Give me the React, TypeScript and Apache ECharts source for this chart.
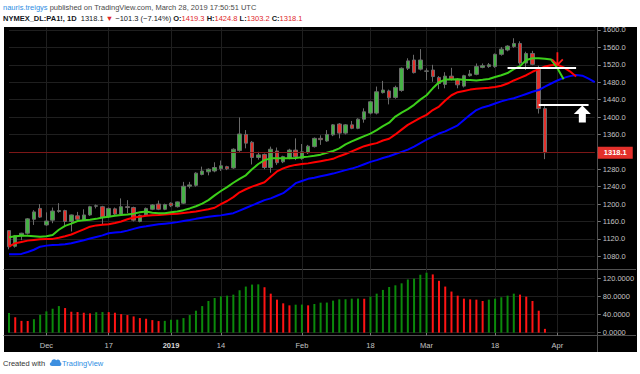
import React, { useEffect, useRef } from 'react';
import * as echarts from 'echarts';

const FONT = 'Liberation Sans, Arial, sans-serif';

const dates = [
  '2018-11-23', '2018-11-26', '2018-11-27', '2018-11-28', '2018-11-29', '2018-11-30',
  '2018-12-03', '2018-12-04', '2018-12-05', '2018-12-06', '2018-12-07', '2018-12-10',
  '2018-12-11', '2018-12-12', '2018-12-13', '2018-12-14', '2018-12-17', '2018-12-18',
  '2018-12-19', '2018-12-20', '2018-12-21', '2018-12-24', '2018-12-26', '2018-12-27',
  '2018-12-28', '2018-12-31', '2019-01-02', '2019-01-03', '2019-01-04', '2019-01-07',
  '2019-01-08', '2019-01-09', '2019-01-10', '2019-01-11', '2019-01-14', '2019-01-15',
  '2019-01-16', '2019-01-17', '2019-01-18', '2019-01-22', '2019-01-23', '2019-01-24',
  '2019-01-25', '2019-01-28', '2019-01-29', '2019-01-30', '2019-01-31', '2019-02-01',
  '2019-02-04', '2019-02-05', '2019-02-06', '2019-02-07', '2019-02-08', '2019-02-11',
  '2019-02-12', '2019-02-13', '2019-02-14', '2019-02-15', '2019-02-18', '2019-02-19',
  '2019-02-20', '2019-02-21', '2019-02-22', '2019-02-25', '2019-02-26', '2019-02-27',
  '2019-02-28', '2019-03-01', '2019-03-04', '2019-03-05', '2019-03-06', '2019-03-07',
  '2019-03-08', '2019-03-11', '2019-03-12', '2019-03-13', '2019-03-14', '2019-03-15',
  '2019-03-18', '2019-03-19', '2019-03-20', '2019-03-21', '2019-03-22', '2019-03-25',
  '2019-03-26', '2019-03-27', '2019-03-28', '2019-03-29', '2019-04-01', '2019-04-02',
  '2019-04-03', '2019-04-04', '2019-04-05', '2019-04-08', '2019-04-09',
];

// [open, high, low, close]
const ohlc = [
  [1139, 1140, 1096, 1102], [1103, 1129, 1100, 1127], [1127, 1134, 1117, 1133], [1133, 1168, 1130, 1166],
  [1165, 1186, 1152, 1182], [1190, 1200, 1168, 1170], [1152, 1181, 1150, 1161], [1163, 1192, 1156, 1184],
  [1183, 1202, 1180, 1185], [1185, 1187, 1150, 1160], [1160, 1176, 1137, 1175], [1173, 1182, 1163, 1165],
  [1163, 1188, 1161, 1175], [1175, 1196, 1173, 1194], [1195, 1199, 1190, 1196], [1194, 1196, 1152, 1170],
  [1171, 1192, 1168, 1190], [1189, 1192, 1175, 1177], [1177, 1213, 1175, 1194], [1194, 1209, 1179, 1192],
  [1192, 1194, 1160, 1163], [1160, 1176, 1158, 1174], [1175, 1192, 1173, 1190], [1188, 1200, 1186, 1198],
  [1200, 1208, 1186, 1188], [1188, 1201, 1186, 1199], [1202, 1204, 1193, 1196], [1194, 1206, 1192, 1205],
  [1202, 1251, 1200, 1241], [1241, 1251, 1236, 1244], [1243, 1273, 1240, 1271], [1268, 1286, 1266, 1276],
  [1274, 1282, 1266, 1280], [1276, 1296, 1273, 1284], [1281, 1300, 1276, 1288], [1286, 1288, 1278, 1281],
  [1283, 1328, 1281, 1326], [1323, 1399, 1320, 1361], [1360, 1370, 1328, 1340], [1342, 1345, 1291, 1307],
  [1307, 1320, 1302, 1313], [1314, 1316, 1280, 1284], [1284, 1332, 1272, 1326], [1322, 1330, 1290, 1295],
  [1297, 1311, 1294, 1309], [1305, 1327, 1303, 1324], [1324, 1351, 1301, 1309], [1305, 1338, 1302, 1320],
  [1318, 1336, 1315, 1333], [1332, 1353, 1330, 1351], [1351, 1358, 1336, 1348], [1345, 1370, 1343, 1360],
  [1359, 1384, 1356, 1382], [1384, 1386, 1351, 1363], [1363, 1384, 1360, 1382], [1382, 1391, 1372, 1374],
  [1374, 1397, 1372, 1395], [1395, 1420, 1387, 1412], [1409, 1437, 1406, 1435], [1409, 1470, 1406, 1458],
  [1456, 1483, 1454, 1462], [1460, 1463, 1429, 1444], [1445, 1472, 1442, 1468], [1461, 1514, 1458, 1512],
  [1512, 1535, 1508, 1529], [1531, 1543, 1500, 1502], [1510, 1556, 1507, 1531], [1505, 1512, 1485, 1506],
  [1508, 1520, 1481, 1493], [1491, 1494, 1464, 1477], [1475, 1503, 1466, 1494], [1494, 1513, 1484, 1487],
  [1487, 1489, 1466, 1474], [1471, 1497, 1468, 1495], [1495, 1508, 1493, 1499], [1498, 1523, 1496, 1516],
  [1514, 1523, 1512, 1518], [1516, 1524, 1513, 1520], [1516, 1546, 1513, 1544], [1544, 1561, 1541, 1556],
  [1554, 1565, 1551, 1563], [1562, 1581, 1559, 1569], [1569, 1574, 1520, 1524], [1524, 1550, 1508, 1546],
  [1546, 1552, 1519, 1521], [1514, 1518, 1408, 1419.4], [1419.3, 1424.8, 1303.2, 1318.1],
];

// Alligator lines (displaced forward 8 / 5 / 3 bars)
const jaw = [
  1084.5, 1084.7, 1085.5, 1090, 1095, 1102, 1104.5, 1106, 1106.5, 1107.5, 1110, 1113.5, 1117, 1121, 1124.5,
  1128, 1133, 1134.5, 1136, 1139, 1143, 1146.6, 1149, 1151.5, 1153.5, 1155, 1156.5, 1158.5, 1161, 1163.4,
  1166, 1168.5, 1171, 1172.5, 1174, 1176.5, 1179, 1185, 1191, 1197, 1203, 1209, 1213, 1219, 1225, 1236,
  1248, 1253, 1258, 1260.5, 1264, 1267, 1270, 1274, 1278, 1281.5, 1286, 1291.5, 1297, 1301, 1306, 1310,
  1315, 1320, 1325, 1332, 1340, 1348, 1355, 1362, 1367, 1374, 1381, 1393, 1405, 1416, 1422, 1426, 1431,
  1436, 1440, 1443, 1448, 1453, 1458, 1462, 1470, 1477, 1484, 1490, 1494, 1496.5, 1495, 1488, 1480,
];
const teeth = [
  1102, 1110, 1113, 1116, 1117.5, 1119, 1119.5, 1120, 1122.5, 1126, 1130, 1136, 1142, 1148, 1151, 1152.5,
  1153.5, 1156.5, 1160, 1165, 1169, 1171, 1173, 1174.5, 1175, 1176, 1177, 1178, 1179.5, 1181, 1183, 1185.5,
  1188, 1191.5, 1200, 1207, 1216, 1227, 1234, 1240, 1245, 1250, 1263, 1275, 1282, 1287, 1290, 1292,
  1293.5, 1296, 1298.5, 1301, 1304, 1310, 1315, 1321, 1327, 1333, 1337, 1340, 1346, 1350, 1360, 1371,
  1382, 1390, 1398, 1405, 1416, 1424, 1438, 1450, 1457, 1460, 1463, 1465, 1466, 1467, 1469, 1472, 1477,
  1484, 1490, 1496, 1504, 1510, 1516, 1519, 1520, 1514, 1505, 1493,
];
const lips = [
  1124, 1126, 1127.4, 1127, 1126, 1125, 1126, 1129, 1141, 1150, 1155, 1161, 1163, 1164, 1166, 1169, 1171,
  1173, 1175, 1176, 1178, 1181, 1183, 1180, 1179, 1179, 1181, 1183, 1186, 1190, 1195, 1201, 1209, 1220,
  1230, 1239, 1249, 1258, 1266, 1280, 1292, 1301, 1305, 1305, 1305, 1305, 1306, 1307.5, 1309, 1311,
  1313.5, 1318, 1322, 1328, 1337, 1344, 1350, 1356, 1362, 1370, 1379, 1387, 1401, 1410, 1418, 1428, 1440,
  1450, 1466, 1480, 1486, 1486.5, 1486.6, 1485.5, 1485, 1484, 1485.5, 1487.5, 1492, 1496, 1501, 1510,
  1517, 1531, 1535, 1535, 1534, 1532, 1512, 1487,
];

const osc = [
  43.6, 34.6, 26.3, 26.0, 30, 39.9, 47.4, 53.3, 59.2, 54.8, 46.6, 45.9, 44.4, 42.9, 45.5, 45.9, 45.7, 44.4,
  41.4, 39.2, 36.2, 32.5, 31, 28, 25.8, 26.3, 28.8, 29.0, 32.5, 39.2, 48.9, 59.2, 70.5, 77.2, 80.9, 82.4,
  84.6, 94.4, 102.6, 107, 107.5, 101.1, 86.8, 73.5, 65.3, 60.8, 62.3, 62.5, 60.8, 63.8, 66.8, 67.0, 71.3,
  74.2, 74.4, 75.7, 75.9, 75.5, 80.2, 86.8, 95.1, 101.6, 105.4, 109.8, 118.4, 120.4, 128.9, 133.4, 129.6,
  115.4, 102.6, 91.5, 82.4, 75.7, 74.2, 73.5, 70.5, 73.5, 75.7, 78.8, 82.4, 86.8, 84.7, 80.2, 70.5, 48.9, 8.5,
];

const priceTicks = [1080, 1120, 1160, 1200, 1240, 1280, 1320, 1360, 1400, 1440, 1480, 1520, 1560, 1600];
const oscTicks = [0, 40, 80, 120];
const timeTickDates = ['2018-12-03', '2018-12-17', '2019-01-02', '2019-01-14', '2019-02-01', '2019-02-18', '2019-03-01', '2019-03-18', '2019-04-01'];
const timeTickLabels = ['Dec', '17', '2019', '14', 'Feb', '18', 'Mar', '18', 'Apr'];

// user drawings: horizontal levels [fromDate, toDate, price]
const levelFrom = ['2019-03-20', '2019-03-27'];
const levelTo = ['2019-04-04', '2019-04-08'];
const levelPrice = [1514.3, 1427.6];
// arrows [date, price]
const arrowDates = ['2019-04-01', '2019-04-05'];
const arrowPrices = [1533, 1407];

const DOWN_ARROW = 'path://M5.5,0L7.5,0L7.5,11.5L11.8,7.2L13.2,8.6L6.5,15.3L-0.2,8.6L1.2,7.2L5.5,11.5Z';
const UP_ARROW = 'path://M8.5,0L17,8.5L12,8.5L12,17L5,17L5,8.5L0,8.5Z';

let logoRegistered = false;

export default function App() {
  const ref = useRef<HTMLDivElement>(null);

  useEffect(() => {
    if (!ref.current) return;
    if (!logoRegistered) {
      echarts.graphic.registerShape(
        'tvlogo',
        echarts.graphic.extendPath(
          'M3,9C0.5,9 0,6 2.3,5.3C2.3,2.5 5.5,1.3 7.3,3.2C8.5,1.8 11.5,2.6 11.2,5.2C13,5.5 12.8,9 10.5,9Z',
          {}
        )
      );
      logoRegistered = true;
    }
    const chart = echarts.init(ref.current, null, { renderer: 'svg' });
    const tickSet = new Set(timeTickDates);
    const labelMap: Record<string, string> = {};
    timeTickDates.forEach((d, i) => (labelMap[d] = timeTickLabels[i]));
    const candleData = ohlc.map((r) => [r[0], r[3], r[2], r[1]]);
    const last = ohlc[ohlc.length - 1];
    const lastClose = last[3];
    const oscData = osc.map((v, i) => ({
      value: v,
      itemStyle: { color: i > 0 && v < osc[i - 1] ? '#ff1414' : '#0b8a0b' },
    }));
    const gridLine = { color: '#1f1f1f', width: 1 };
    const axisText = { color: '#c4c4c4', fontSize: 7.5, fontFamily: FONT };

    const option: any = {
      animation: false,
      backgroundColor: 'transparent',
      grid: [
        { left: 9, width: 585.8, top: 27.5, height: 241.8, outerBoundsMode: 'none', containLabel: false },
        { left: 9, width: 585.8, top: 269.3, height: 66, outerBoundsMode: 'none', containLabel: false },
      ],
      xAxis: [
        {
          type: 'category', gridIndex: 0, data: dates, boundaryGap: false,
          axisLine: { show: false }, axisTick: { show: false }, axisLabel: { show: false },
          splitLine: { show: true, interval: (_i: number, v: string) => tickSet.has(v), lineStyle: gridLine },
        },
        {
          type: 'category', gridIndex: 1, data: dates, boundaryGap: false,
          axisLine: { show: false },
          axisTick: { show: true, length: 3, interval: (_i: number, v: string) => tickSet.has(v), lineStyle: { color: '#777' } },
          axisLabel: {
            ...axisText, margin: 6,
            interval: (_i: number, v: string) => tickSet.has(v),
            formatter: (v: string) => (labelMap[v] === '2019' ? '{b|2019}' : labelMap[v] || ''),
            rich: { b: { fontWeight: 'bold', color: '#d8d8d8', fontSize: 7.5, fontFamily: FONT } },
          },
          splitLine: { show: true, interval: (_i: number, v: string) => tickSet.has(v), lineStyle: gridLine },
        },
      ],
      yAxis: [
        {
          type: 'value', gridIndex: 0, position: 'right', offset: 3, min: 1050.1, max: 1605.7,
          axisLine: { show: false },
          axisTick: { show: true, length: 3, customValues: priceTicks, lineStyle: { color: '#777' } },
          axisLabel: { ...axisText, margin: 5, customValues: priceTicks, formatter: (v: number) => v.toFixed(1) },
          splitLine: { show: true, lineStyle: gridLine },
        },
        {
          type: 'value', gridIndex: 1, position: 'right', offset: 3, min: -5.8, max: 141,
          axisLine: { show: false },
          axisTick: { show: true, length: 3, customValues: oscTicks, lineStyle: { color: '#777' } },
          axisLabel: { ...axisText, margin: 5, customValues: oscTicks, formatter: (v: number) => v.toFixed(4) },
          splitLine: { show: true, lineStyle: gridLine },
        },
      ],
      series: [
        {
          type: 'candlestick', xAxisIndex: 0, yAxisIndex: 0, data: candleData, barWidth: 4, clip: false, z: 3,
          itemStyle: { color: '#45b145', color0: '#e3302b', borderColor: '#6a6a6a', borderColor0: '#6a6a6a', borderWidth: 1 },
          markLine: {
            silent: true, symbol: ['none', 'none'], animation: false,
            data: [
              {
                yAxis: lastClose,
                lineStyle: { color: '#7c1717', width: 1, type: 'solid' },
                label: {
                  show: true, position: 'end', distance: 3, formatter: lastClose.toFixed(1),
                  backgroundColor: '#e3302b', color: '#fff', fontWeight: 'bold', fontSize: 7.5,
                  fontFamily: FONT, padding: [2, 6, 2, 6],
                },
              },
              ...levelPrice.map((p, i) => [
                { coord: [levelFrom[i], p], lineStyle: { color: '#ffffff', width: 2, type: 'solid' }, label: { show: false } },
                { coord: [levelTo[i], p] },
              ]),
            ],
          },
          markPoint: {
            silent: true, animation: false, label: { show: false },
            data: [
              { coord: [arrowDates[0], arrowPrices[0]], symbol: DOWN_ARROW, symbolSize: [12, 14], itemStyle: { color: '#ff1a1a' } },
              { coord: [arrowDates[1], arrowPrices[1]], symbol: UP_ARROW, symbolSize: [17, 17], itemStyle: { color: '#ffffff' } },
            ],
          },
        },
        { type: 'line', xAxisIndex: 0, yAxisIndex: 0, data: jaw, showSymbol: false, clip: false, z: 4, lineStyle: { color: '#0000ff', width: 2 } },
        { type: 'line', xAxisIndex: 0, yAxisIndex: 0, data: teeth, showSymbol: false, clip: false, z: 4, lineStyle: { color: '#ff0000', width: 2 } },
        { type: 'line', xAxisIndex: 0, yAxisIndex: 0, data: lips, showSymbol: false, clip: false, z: 4, lineStyle: { color: '#3ccf1a', width: 2 } },
        { type: 'bar', xAxisIndex: 1, yAxisIndex: 1, data: oscData, barWidth: 2, clip: false },
      ],
      graphic: [
        { type: 'line', shape: { x1: 3.5, y1: 269.5, x2: 636, y2: 269.5 }, style: { stroke: '#505050', lineWidth: 1 }, silent: true },
        { type: 'line', shape: { x1: 3.5, y1: 335.5, x2: 636, y2: 335.5 }, style: { stroke: '#505050', lineWidth: 1 }, silent: true },
        { type: 'line', shape: { x1: 597.5, y1: 27, x2: 597.5, y2: 352 }, style: { stroke: '#505050', lineWidth: 1 }, silent: true },
        {
          type: 'text', x: 3, y: 3, silent: true,
          style: {
            text: '{u|nauris.treigys} {g|published on TradingView.com, March 28, 2019 17:50:51 UTC}',
            verticalAlign: 'top', fontFamily: FONT, fontSize: 7.5,
            rich: {
              u: { fill: '#2e8ee3', fontSize: 7.5, fontFamily: FONT },
              g: { fill: '#4a4a4a', fontSize: 7.5, fontFamily: FONT },
            },
          },
        },
        {
          type: 'text', x: 3, y: 14, silent: true,
          style: {
            text: '{b|NYMEX_DL:PA1!, 1D}  {n|1318.1} {r|▼} {n|−101.3 (−7.14%)} {b|O:}{r|1419.3} {b|H:}{r|1424.8} {b|L:}{r|1303.2} {b|C:}{r|1318.1}',
            verticalAlign: 'top', fontFamily: FONT, fontSize: 7.5,
            rich: {
              b: { fill: '#131722', fontWeight: 'bold', fontSize: 7.5, fontFamily: FONT },
              n: { fill: '#131722', fontSize: 7.5, fontFamily: FONT },
              r: { fill: '#e0262a', fontSize: 7.5, fontFamily: FONT },
            },
          },
        },
        {
          type: 'text', x: 3, y: 359, silent: true,
          style: { text: 'Created with', fill: '#333', fontSize: 7.5, fontFamily: FONT, verticalAlign: 'top' },
        },
        { type: 'tvlogo', x: 49, y: 357, scaleX: 1, scaleY: 1, silent: true, style: { fill: '#3d8fe0' } },
        {
          type: 'text', x: 62, y: 359, silent: true,
          style: { text: 'TradingView', fill: '#2e8ee3', fontSize: 7.5, fontFamily: FONT, verticalAlign: 'top' },
        },
      ],
    };
    chart.setOption(option);
    return () => chart.dispose();
  }, []);

  return (
    <div style={{ position: 'absolute', left: 0, top: 0, width: 640, height: 374, background: '#fff' }}>
      <div style={{ position: 'absolute', left: 3.5, top: 27, width: 633, height: 325, background: '#000' }} />
      <div ref={ref} style={{ position: 'absolute', left: 0, top: 0, width: 640, height: 374 }} />
    </div>
  );
}
